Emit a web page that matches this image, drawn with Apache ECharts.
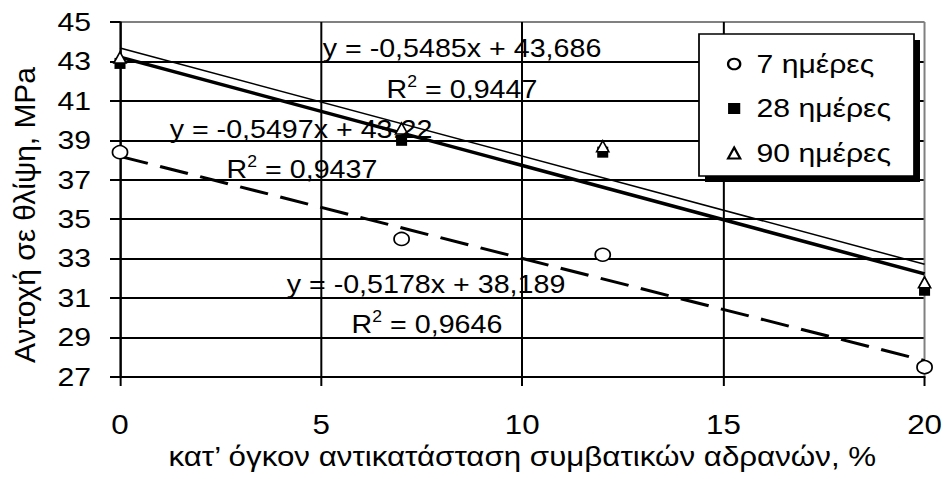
<!DOCTYPE html>
<html><head><meta charset="utf-8">
<script src="https://cdn.jsdelivr.net/npm/echarts@6/dist/echarts.min.js"></script>
<style>
html,body{margin:0;padding:0;background:#fff;overflow:hidden}
#wrap{width:947px;height:479px;overflow:hidden}
#c{height:479px;transform-origin:0 0}
</style>
</head><body><div id="wrap"><div id="c"></div></div>
<script>
// ---- data ----
const xValues = [0, 7, 12, 20];
const days7 = [38.4, 34.0, 33.2, 27.5];
const days28 = [42.9, 39.0, 38.4, 31.4];
const days90 = [43.2, 39.6, 38.7, 31.8];
const seriesNames = ['7 ημέρες', '28 ημέρες', '90 ημέρες'];
const trendX = [0, 20];
const trend7 = [38.189, 27.833];
const trend28 = [43.22, 32.226];
const trend90 = [43.686, 32.716];
const eq90 = 'y = -0,5485x + 43,686';
const r90 = '0,9447';
const eq28 = 'y = -0,5497x + 43,22';
const r28 = '0,9437';
const eq7 = 'y = -0,5178x + 38,189';
const r7 = '0,9646';
const xTitle = 'κατ\u2019 όγκον αντικατάσταση συμβατικών αδρανών, %';
const yTitle = 'Αντοχή σε θλίψη, MPa';

// the reference is drawn horizontally widened; draw at 1/S width and stretch
const S = 1.16;
const W = 947 / S;
const el = document.getElementById('c');
el.style.width = W + 'px';
el.style.transform = 'scaleX(' + S + ')';

const FONT = '"Liberation Sans", Arial, sans-serif';
const pts = (xs, ys) => xs.map((x, i) => [x, ys[i]]);
const px = v => v / S;

const eqText = (t, x, y) => ({
  type: 'text', x: px(x), y: y, z: 5, scaleX: 0.95,
  style: { text: t, font: '26px ' + FONT, fill: '#000', align: 'center', verticalAlign: 'middle' }
});
const rText = (v, x, y) => ({
  type: 'text', x: px(x), y: y, z: 5, scaleX: 0.95,
  style: {
    text: '{r|R}{s|2}{r| = ' + v + '}', align: 'center', verticalAlign: 'middle', fill: '#000',
    rich: {
      r: { fontSize: 26, fontFamily: FONT, lineHeight: 30, fill: '#000' },
      s: { fontSize: 16, fontFamily: FONT, verticalAlign: 'top', lineHeight: 30, fill: '#000' }
    }
  }
});

const chart = echarts.init(el, null, { renderer: 'svg' });
const yGrid = ['#000','#000','#000','#000','#000','#000','#000','#000','#000','#808080'];
const xGrid = ['#000','#000','#000','#000','#808080'];
chart.setOption({
  animation: false,
  backgroundColor: '#fff',
  textStyle: { fontFamily: FONT },
  grid: { left: px(120), right: px(22), top: 22, bottom: 102 },
  xAxis: {
    type: 'value', min: 0, max: 20, interval: 5,
    name: xTitle, nameLocation: 'middle', nameGap: 60,
    nameTextStyle: { fontSize: 27, color: '#000', fontFamily: FONT },
    axisLine: { lineStyle: { color: '#000', width: 2 } },
    axisTick: { length: 9, lineStyle: { color: '#000', width: px(2) } },
    axisLabel: { fontSize: 27, color: '#000', margin: 34, fontFamily: FONT },
    splitLine: { show: true, lineStyle: { color: xGrid, width: px(2) } }
  },
  yAxis: {
    type: 'value', min: 27, max: 45, interval: 2,
    axisLine: { show: true, lineStyle: { color: '#000', width: px(2) } },
    axisTick: { show: true, length: px(10), lineStyle: { color: '#000', width: 2 } },
    axisLabel: { fontSize: 26, color: '#000', margin: px(29), fontFamily: FONT },
    splitLine: { show: true, lineStyle: { color: yGrid, width: 2 } }
  },
  legend: {
    data: seriesNames, orient: 'vertical', left: px(733) - 5.25, top: 49, padding: 0,
    itemWidth: 10.5, itemHeight: 11, itemGap: 14.5, z: 6,
    textStyle: { fontSize: 26, color: '#000', fontFamily: FONT, lineHeight: 30, padding: [0, 0, 0, 9] }
  },
  graphic: [
    { type: 'rect', z: 3, shape: { x: px(705), y: 40, width: px(215), height: 142 }, style: { fill: '#000' } },
    { type: 'rect', z: 3, shape: { x: px(699), y: 34, width: px(215), height: 142 }, style: { fill: '#fff', stroke: '#000', lineWidth: 1.5 } },
    eqText(eq90, 462, 48),
    rText(r90, 462, 89),
    eqText(eq28, 301, 129),
    rText(r28, 302, 169),
    eqText(eq7, 426, 284),
    rText(r7, 427, 324),
    { type: 'text', x: px(24), y: 215, rotation: Math.PI / 2, scaleX: 1.15, z: 5,
      style: { text: yTitle, font: '26px ' + FONT, fill: '#000', align: 'center', verticalAlign: 'middle' } }
  ],
  series: [
    { name: 'trend7', type: 'line', data: pts(trendX, trend7), showSymbol: false, silent: true, z: 2,
      lineStyle: { color: '#000', width: 3, type: [25, 11] } },
    { name: 'trend28', type: 'line', data: pts(trendX, trend28), showSymbol: false, silent: true, z: 2,
      lineStyle: { color: '#000', width: 3.5 } },
    { name: 'trend90', type: 'line', data: pts(trendX, trend90), showSymbol: false, silent: true, z: 2,
      lineStyle: { color: '#000', width: 1.5 } },
    { name: seriesNames[0], type: 'scatter', data: pts(xValues, days7), symbol: 'circle', symbolSize: 13, z: 3,
      itemStyle: { color: '#fff', borderColor: '#000', borderWidth: 1.5, opacity: 1 } },
    { name: seriesNames[1], type: 'scatter', data: pts(xValues, days28), symbol: 'rect', symbolSize: [9.5, 11], z: 3,
      itemStyle: { color: '#000', borderColor: '#000', borderWidth: 0, opacity: 1 } },
    { name: seriesNames[2], type: 'scatter', data: pts(xValues, days90), symbol: 'triangle', symbolSize: [10.5, 11], z: 3,
      itemStyle: { color: '#fff', borderColor: '#000', borderWidth: 1.5, opacity: 1 } }
  ]
});
</script></body></html>
